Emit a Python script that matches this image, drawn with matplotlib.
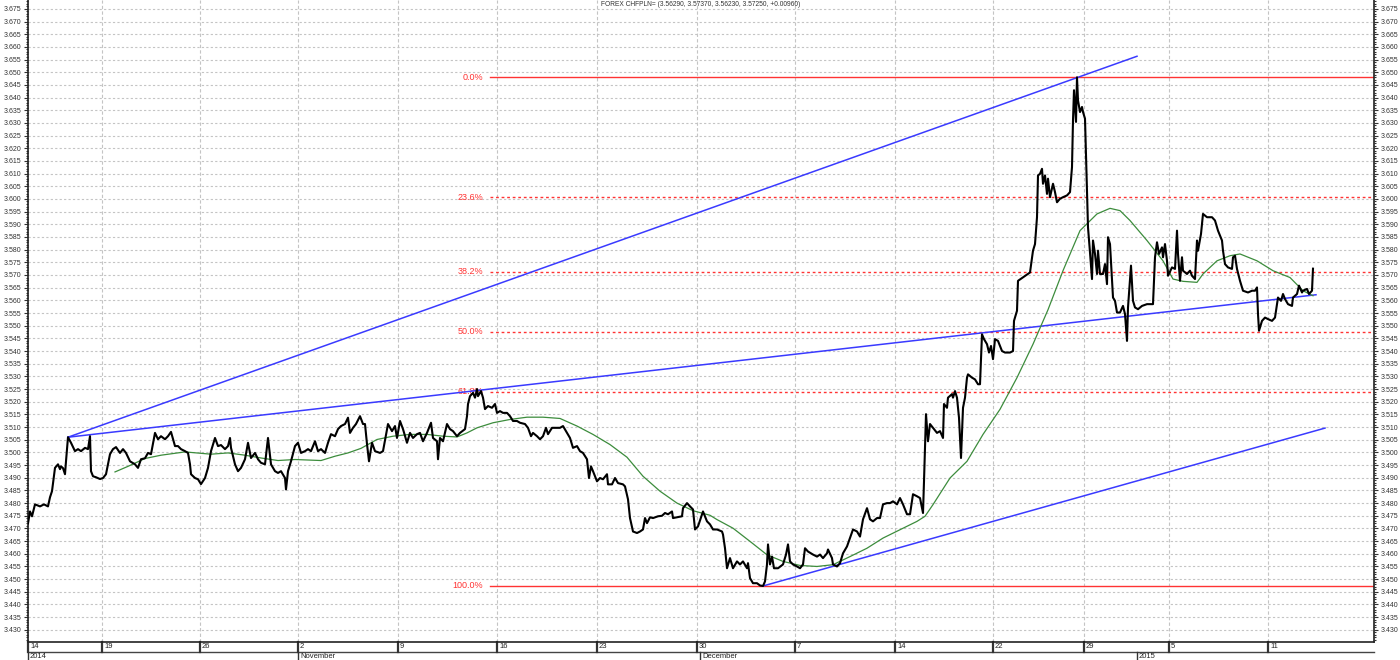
import numpy as np
import matplotlib
matplotlib.use("Agg")
import matplotlib.pyplot as plt
from matplotlib.ticker import MultipleLocator, FormatStrFormatter

plt.rcParams['font.family'] = ['Liberation Sans', 'DejaVu Sans']

# ---------------- data ----------------
title_text = "FOREX CHFPLN= (3.56290, 3.57370, 3.56230, 3.57250, +0.00960)"

# bar index (intraday bars) and closing price
price_bar = [0, 2, 4, 7, 12, 16, 20, 22, 24, 27, 30, 32, 33, 35, 37, 38, 40, 43, 47, 50,
             53, 57, 60, 62, 63, 65, 68, 72, 75, 78, 82, 85, 88, 92, 95, 98, 102, 107, 110, 113,
             117, 120, 123, 127, 130, 133, 137, 140, 143, 147, 150, 153, 157, 160, 162, 163, 167, 170, 173, 177,
             180, 183, 187, 190, 193, 197, 200, 202, 203, 207, 210, 213, 217, 220, 223, 227, 230, 233, 237, 240,
             243, 247, 250, 253, 257, 258, 260, 263, 267, 270, 273, 277, 280, 283, 287, 290, 293, 297, 300, 303,
             307, 310, 313, 317, 320, 322, 325, 328, 332, 335, 337, 339, 341, 344, 347, 352, 355, 360, 364, 367,
             369, 372, 375, 379, 382, 385, 389, 392, 395, 399, 403, 405, 409, 410, 412, 415, 419, 422, 425, 429,
             432, 437, 439, 440, 442, 445, 447, 449, 450, 453, 455, 457, 460, 464, 467, 469, 472, 475, 479, 482,
             485, 489, 492, 497, 500, 503, 505, 509, 512, 515, 518, 520, 524, 529, 532, 535, 539, 542, 545, 549,
             552, 555, 559, 561, 563, 565, 569, 572, 575, 579, 580, 584, 587, 590, 595, 597, 600, 602, 605, 609,
             612, 615, 617, 619, 622, 625, 630, 634, 637, 640, 644, 645, 649, 654, 655, 659, 662, 665, 667, 670,
             675, 679, 682, 685, 689, 694, 695, 697, 699, 702, 705, 709, 712, 715, 719, 720, 722, 725, 729, 732,
             735, 737, 739, 740, 742, 744, 746, 750, 755, 758, 760, 762, 765, 769, 772, 775, 777, 780, 785, 789,
             792, 795, 799, 800, 804, 805, 809, 812, 815, 819, 822, 825, 829, 832, 835, 839, 842, 845, 849, 852,
             855, 859, 862, 865, 869, 872, 875, 879, 882, 885, 889, 892, 895, 896, 898, 900, 902, 905, 909, 912,
             915, 916, 919, 920, 924, 925, 927, 929, 931, 933, 935, 937, 939, 940, 944, 947, 950, 952, 954, 956,
             959, 961, 963, 965, 967, 970, 974, 977, 982, 985, 986, 989, 990, 1002, 1005, 1007, 1009, 1010, 1012, 1014,
             1015, 1017, 1019, 1020, 1022, 1025, 1027, 1029, 1032, 1035, 1039, 1042, 1044, 1045, 1046, 1048, 1049, 1050, 1052, 1054,
             1055, 1057, 1059, 1060, 1062, 1064, 1065, 1067, 1069, 1070, 1072, 1075, 1077, 1079, 1080, 1082, 1085, 1087, 1089, 1092,
             1095, 1097, 1099, 1100, 1103, 1105, 1107, 1110, 1114, 1119, 1125, 1127, 1129, 1131, 1134, 1135, 1137, 1139, 1140, 1144,
             1147, 1149, 1150, 1152, 1154, 1155, 1159, 1162, 1164, 1167, 1169, 1170, 1173, 1175, 1179, 1184, 1187, 1190, 1194, 1195,
             1197, 1200, 1204, 1205, 1207, 1209, 1212, 1215, 1220, 1224, 1227, 1229, 1230, 1231, 1234, 1237, 1240, 1244, 1247, 1249,
             1250, 1253, 1255, 1257, 1260, 1264, 1265, 1269, 1271, 1274, 1275, 1279, 1281, 1284, 1285]
price_close = [3.4720, 3.4767, 3.4748, 3.4795, 3.4787, 3.4795, 3.4787, 3.4823, 3.4847, 3.4939, 3.4953, 3.4934, 3.4945, 3.4938, 3.4914, 3.4965, 3.5060, 3.5038, 3.5005, 3.5013,
               3.5005, 3.5018, 3.5013, 3.5064, 3.4926, 3.4906, 3.4902, 3.4895, 3.4899, 3.4914, 3.4993, 3.5013, 3.5021, 3.4998, 3.5013, 3.4998, 3.4965, 3.4953, 3.4939, 3.4973,
               3.4977, 3.4998, 3.4993, 3.5077, 3.5052, 3.5064, 3.5052, 3.5064, 3.5081, 3.5025, 3.5025, 3.5013, 3.5005, 3.4998, 3.4953, 3.4914, 3.4899, 3.4894, 3.4875, 3.4899,
               3.4939, 3.5005, 3.5057, 3.5025, 3.5029, 3.5013, 3.5025, 3.5057, 3.5018, 3.4953, 3.4926, 3.4939, 3.4973, 3.5038, 3.4978, 3.4998, 3.4973, 3.4959, 3.4953, 3.5057,
               3.4953, 3.4926, 3.4919, 3.4926, 3.4899, 3.4854, 3.4926, 3.4965, 3.5025, 3.5038, 3.4998, 3.5005, 3.5013, 3.5005, 3.5044, 3.5005, 3.5013, 3.4998, 3.5038, 3.5072,
               3.5064, 3.5092, 3.5104, 3.5112, 3.5137, 3.5077, 3.5097, 3.5112, 3.5143, 3.5112, 3.5112, 3.5033, 3.4965, 3.5038, 3.5005, 3.4998, 3.5005, 3.5112, 3.5084, 3.5104,
               3.5057, 3.5124, 3.5092, 3.5038, 3.5077, 3.5057, 3.5072, 3.5077, 3.5044, 3.5077, 3.5117, 3.5057, 3.5044, 3.4973, 3.5057, 3.5044, 3.5112, 3.5092, 3.5084, 3.5064,
               3.5077, 3.5092, 3.5143, 3.5191, 3.5222, 3.5235, 3.5216, 3.5250, 3.5222, 3.5242, 3.5216, 3.5171, 3.5183, 3.5176, 3.5191, 3.5156, 3.5163, 3.5156, 3.5156, 3.5143,
               3.5124, 3.5124, 3.5117, 3.5112, 3.5097, 3.5064, 3.5077, 3.5064, 3.5052, 3.5064, 3.5097, 3.5072, 3.5097, 3.5097, 3.5097, 3.5104, 3.5077, 3.5057, 3.5018, 3.5025,
               3.5005, 3.4998, 3.4973, 3.4899, 3.4945, 3.4926, 3.4886, 3.4899, 3.4894, 3.4914, 3.4874, 3.4874, 3.4899, 3.4879, 3.4874, 3.4866, 3.4815, 3.4741, 3.4688, 3.4682,
               3.4688, 3.4696, 3.4741, 3.4721, 3.4744, 3.4741, 3.4748, 3.4750, 3.4761, 3.4756, 3.4767, 3.4741, 3.4744, 3.4748, 3.4780, 3.4800, 3.4787, 3.4775, 3.4696, 3.4708,
               3.4767, 3.4728, 3.4716, 3.4696, 3.4696, 3.4688, 3.4676, 3.4622, 3.4543, 3.4583, 3.4543, 3.4570, 3.4558, 3.4570, 3.4543, 3.4563, 3.4504, 3.4484, 3.4484, 3.4475,
               3.4473, 3.4491, 3.4558, 3.4637, 3.4558, 3.4589, 3.4543, 3.4543, 3.4558, 3.4597, 3.4637, 3.4570, 3.4558, 3.4550, 3.4543, 3.4558, 3.4622, 3.4609, 3.4597, 3.4589,
               3.4597, 3.4583, 3.4602, 3.4617, 3.4583, 3.4558, 3.4550, 3.4563, 3.4602, 3.4629, 3.4662, 3.4696, 3.4688, 3.4668, 3.4736, 3.4780, 3.4736, 3.4728, 3.4741, 3.4741,
               3.4795, 3.4800, 3.4800, 3.4807, 3.4795, 3.4820, 3.4795, 3.4756, 3.4756, 3.4835, 3.4827, 3.4820, 3.4761, 3.4886, 3.5151, 3.5044, 3.5112, 3.5097, 3.5077, 3.5084,
               3.5057, 3.5191, 3.5176, 3.5216, 3.5230, 3.5216, 3.5242, 3.5216, 3.5137, 3.4978, 3.5176, 3.5216, 3.5295, 3.5308, 3.5295, 3.5288, 3.5269, 3.5269, 3.5466, 3.5447,
               3.5427, 3.5394, 3.5420, 3.5368, 3.5447, 3.5440, 3.5400, 3.5394, 3.5394, 3.5400, 3.5519, 3.5559, 3.5677, 3.5710, 3.5796, 3.5822, 3.5928, 3.6093, 3.6099, 3.6119,
               3.6060, 3.6093, 3.6020, 3.6080, 3.6007, 3.6060, 3.6027, 3.5987, 3.6001, 3.6007, 3.6014, 3.6027, 3.6126, 3.6310, 3.6429, 3.6304, 3.6480, 3.6389, 3.6343, 3.6363,
               3.6343, 3.6317, 3.6020, 3.5888, 3.5789, 3.5684, 3.5836, 3.5783, 3.5704, 3.5796, 3.5704, 3.5704, 3.5743, 3.5664, 3.5849, 3.5822, 3.5611, 3.5598, 3.5552, 3.5552,
               3.5578, 3.5546, 3.5440, 3.5572, 3.5737, 3.5598, 3.5572, 3.5565, 3.5578, 3.5585, 3.5585, 3.5770, 3.5829, 3.5783, 3.5809, 3.5770, 3.5822, 3.5756, 3.5697, 3.5730,
               3.5724, 3.5875, 3.5783, 3.5677, 3.5770, 3.5717, 3.5704, 3.5717, 3.5697, 3.5684, 3.5836, 3.5796, 3.5862, 3.5941, 3.5928, 3.5928, 3.5915, 3.5875, 3.5836, 3.5796,
               3.5743, 3.5730, 3.5724, 3.5770, 3.5776, 3.5724, 3.5677, 3.5638, 3.5631, 3.5638, 3.5638, 3.5651, 3.5546, 3.5480, 3.5519, 3.5532, 3.5526, 3.5519, 3.5532, 3.5585,
               3.5611, 3.5598, 3.5625, 3.5605, 3.5585, 3.5578, 3.5611, 3.5625, 3.5658, 3.5631, 3.5638, 3.5645, 3.5625, 3.5638, 3.5725]

# moving average (green)
ma_bar = [87, 100, 117, 133, 157, 183, 200, 217, 233, 250, 267, 293, 307, 320, 333, 349, 365, 382, 399, 415,
          429, 439, 449, 465, 482, 499, 515, 532, 549, 565, 582, 599, 615, 632, 649, 665, 682, 689, 705, 722,
          739, 755, 772, 789, 805, 822, 839, 855, 872, 889, 897, 905, 922, 939, 955, 972, 989, 1005, 1020, 1035,
          1052, 1069, 1082, 1092, 1102, 1119, 1135, 1145, 1155, 1169, 1175, 1189, 1202, 1212, 1229, 1245, 1262, 1275, 1285]
ma_value = [3.4923, 3.4945, 3.4976, 3.4989, 3.5002, 3.4993, 3.4998, 3.4989, 3.4978, 3.4968, 3.4972, 3.4968, 3.4985, 3.4998, 3.5016, 3.5051, 3.5064, 3.5071, 3.5071, 3.5064,
            3.5061, 3.5077, 3.5097, 3.5117, 3.5130, 3.5139, 3.5139, 3.5134, 3.5104, 3.5071, 3.5031, 3.4981, 3.4906, 3.4847, 3.4800, 3.4770, 3.4752, 3.4735, 3.4701, 3.4649,
            3.4596, 3.4570, 3.4554, 3.4550, 3.4557, 3.4589, 3.4622, 3.4662, 3.4695, 3.4728, 3.4748, 3.4794, 3.4899, 3.4965, 3.5071, 3.5170, 3.5295, 3.5427, 3.5563, 3.5717,
            3.5875, 3.5941, 3.5963, 3.5954, 3.5915, 3.5836, 3.5756, 3.5684, 3.5675, 3.5671, 3.5704, 3.5756, 3.5776, 3.5783, 3.5756, 3.5717, 3.5690, 3.5638, 3.5618]

# trend lines: (start bar, start price, end bar, end price)
trend_upper = [40, 3.5060, 1109, 3.6563]
trend_middle = [40, 3.5060, 1288, 3.5622]
trend_lower = [735, 3.4473, 1297, 3.5096]

# Fibonacci retracement
fib_high = 3.6480
fib_low = 3.4473
fib_start_bar = 462
fib_levels = [0.0, 23.6, 38.2, 50.0, 61.8, 100.0]
fib_labels = ["0.0%", "23.6%", "38.2%", "50.0%", "61.8%", "100.0%"]

# time axis
day_tick_bars = [0, 74, 172, 270, 370, 469, 569, 669, 767, 867, 965, 1056, 1141, 1240]
day_tick_labels = ["14", "19", "26", "2", "9", "16", "23", "30", "7", "14", "22", "29", "5", "11"]
month_bars = [0, 270, 672, 1109]
month_labels = ["2014", "November", "December", "2015"]

x_max = 1346
y_min, y_max = 3.4252, 3.6785

# ---------------- figure ----------------
W, H = 1400, 660
fig = plt.figure(figsize=(W / 100, H / 100), dpi=100)
ax_left, ax_right, ax_top, ax_bot = 28, 1374, 0, 642
ax = fig.add_axes([ax_left / W, 1 - ax_bot / H, (ax_right - ax_left) / W, (ax_bot - ax_top) / H])
ax.set_xlim(0, x_max)
ax.set_ylim(y_min, y_max)

grid_c = '#c4c4c4'
ax.yaxis.set_major_locator(MultipleLocator(0.005))
ax.yaxis.set_minor_locator(MultipleLocator(0.001))
ax.yaxis.set_major_formatter(FormatStrFormatter('%.3f'))
ax.grid(axis='y', which='major', color=grid_c, linestyle=(0, (2, 2)), linewidth=0.8)
ax.set_xticks(day_tick_bars)
ax.set_xticklabels([])
ax.grid(axis='x', which='major', color=grid_c, linestyle=(0, (3, 2)), linewidth=0.8)
ax.set_axisbelow(True)

ax.tick_params(axis='y', which='both', left=True, right=True, labelleft=True, labelright=True,
               labelsize=5, colors='#333333', direction='out', width=0.8)
ax.tick_params(axis='y', which='major', length=3, pad=1.5)
ax.tick_params(axis='y', which='minor', length=1.5)
ax.tick_params(axis='x', length=0)
for sp in ['left', 'right', 'bottom']:
    ax.spines[sp].set_color('#222222')
    ax.spines[sp].set_linewidth(1.2)
ax.spines['top'].set_visible(False)

# Fibonacci lines
fib_color = '#ff3333'
for lvl, lab in zip(fib_levels, fib_labels):
    yv = fib_high - (fib_high - fib_low) * lvl / 100.0
    ls = '-' if lvl in (0.0, 100.0) else (0, (2, 2))
    ax.plot([fib_start_bar, x_max], [yv, yv], color=fib_color, linestyle=ls, linewidth=1.0, zorder=2)
    ax.text(fib_start_bar - 7, yv, lab, color=fib_color, fontsize=6.5, ha='right', va='center', zorder=2)

# trend lines
for tl in (trend_upper, trend_middle, trend_lower):
    ax.plot([tl[0], tl[2]], [tl[1], tl[3]], color='#3a3aff', linewidth=1.1, zorder=3)

# moving average
ax.plot(ma_bar, ma_value, color='#3c8c3c', linewidth=0.9, zorder=4)
# price
ax.plot(price_bar, price_close, color='black', linewidth=1.5, zorder=5)

# title
ax.text(0.4995, 1 - 5 / 642, title_text, transform=ax.transAxes, fontsize=4.8, color='#333333',
        ha='center', va='center')

# bottom date rows
tr = ax.get_xaxis_transform()
r1 = -10 / 642
r2 = -18 / 642
ax.plot([0, x_max], [r1, r1], transform=tr, color='#444444', linewidth=1.0, clip_on=False)
for b, lab in zip(day_tick_bars, day_tick_labels):
    ax.plot([b, b], [0, r1], transform=tr, color='#333333', linewidth=1.6, clip_on=False)
    ax.text(b + 2, r1 / 2, lab, transform=tr, fontsize=5.5, color='#222222', ha='left', va='center')
for b, lab in zip(month_bars, month_labels):
    ax.plot([b, b], [r1, r2], transform=tr, color='#333333', linewidth=1.0, clip_on=False)
    ax.text(b + 2, (r1 + r2) / 2 - 0.001, lab, transform=tr, fontsize=5.5, color='#222222', ha='left', va='center')

fig.savefig('out.png', dpi=100)
